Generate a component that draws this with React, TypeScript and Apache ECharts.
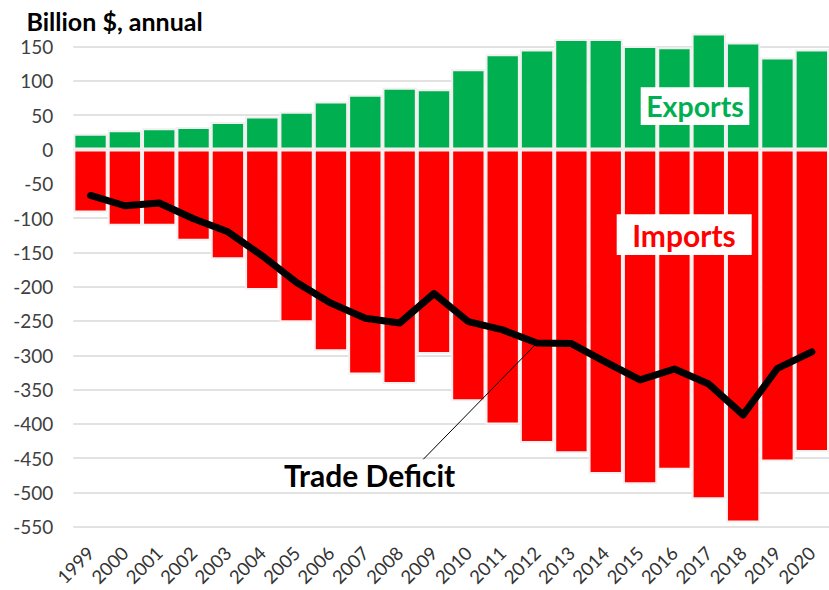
import React, { useEffect, useRef } from "react";
import * as echarts from "echarts";

const years = ["1999","2000","2001","2002","2003","2004","2005","2006","2007","2008","2009","2010","2011","2012","2013","2014","2015","2016","2017","2018","2019","2020"];
const exportsVals = [23, 28, 31, 33, 40, 48, 55, 70, 80, 90, 88, 117, 139, 146, 161, 161, 151, 149, 169, 156, 134, 146];
const importsVals = [-92, -111, -111, -133, -160, -205, -252, -294, -328, -342, -298, -367, -401, -428, -443, -473, -488, -467, -510, -544, -455, -441];
const deficitVals = [-67, -82, -78, -101, -120, -155, -194, -224, -246, -253, -210, -251, -263, -282, -283, -310, -336, -320, -342, -387, -319, -295];

const FONT = "Lato, 'Open Sans', sans-serif";

export default function App() {
  const ref = useRef<HTMLDivElement>(null);
  useEffect(() => {
    if (!ref.current) return;
    const chart = echarts.init(ref.current, undefined, { renderer: "svg" });
    chart.setOption({
      animation: false,
      backgroundColor: "#ffffff",
      grid: { left: 73.35, right: -7.75, top: 29.5, bottom: 63.3, containLabel: false },
      xAxis: {
        type: "category",
        data: years,
        axisLine: { show: false, onZero: false },
        axisTick: { show: false },
        axisLabel: {
          rotate: 45,
          interval: 0,
          margin: 23,
          fontSize: 18.5,
          fontFamily: FONT,
          color: "#333333",
        },
      },
      yAxis: {
        type: "value",
        min: -550,
        max: 175,
        interval: 50,
        axisLine: { show: false },
        axisTick: { show: false },
        axisLabel: {
          showMaxLabel: false,
          margin: 20,
          fontSize: 19,
          fontFamily: FONT,
          color: "#404040",
        },
        splitLine: {
          showMaxLine: false,
          lineStyle: { color: "#d9d9d9", width: 1.5 },
        },
      },
      series: [
        {
          name: "Exports",
          type: "bar",
          stack: "trade",
          data: exportsVals,
          barCategoryGap: "0%",
          itemStyle: { color: "#00b050", borderColor: "#f0f0f0", borderWidth: 2 },
        },
        {
          name: "Imports",
          type: "bar",
          stack: "trade",
          data: importsVals,
          barCategoryGap: "0%",
          itemStyle: { color: "#ff0000", borderColor: "#f8f0f0", borderWidth: 2 },
        },
        {
          name: "Trade Deficit",
          type: "line",
          data: deficitVals,
          symbol: "none",
          z: 5,
          lineStyle: { color: "#000000", width: 7, cap: "round", join: "round" },
        },
      ],
      graphic: [
        {
          type: "text",
          left: 26.5,
          top: 8,
          style: {
            text: "Billion $, annual",
            fontSize: 25,
            fontWeight: "bold",
            fontFamily: FONT,
            fill: "#000000",
          },
          z: 10,
        },
        {
          type: "rect",
          shape: { x: 640.7, y: 87.3, width: 108.6, height: 37.7 },
          style: { fill: "#ffffff" },
          z: 10,
        },
        {
          type: "text",
          x: 695,
          y: 106,
          style: {
            text: "Exports",
            fontSize: 28.5,
            fontWeight: "bold",
            fontFamily: FONT,
            fill: "#00b050",
            align: "center",
            verticalAlign: "middle",
          },
          z: 11,
        },
        {
          type: "rect",
          shape: { x: 616.7, y: 214.3, width: 135, height: 40.7 },
          style: { fill: "#ffffff" },
          z: 10,
        },
        {
          type: "text",
          x: 684,
          y: 235,
          style: {
            text: "Imports",
            fontSize: 30,
            fontWeight: "bold",
            fontFamily: FONT,
            fill: "#ff0000",
            align: "center",
            verticalAlign: "middle",
          },
          z: 11,
        },
        {
          type: "line",
          shape: { x1: 423.3, y1: 459.3, x2: 535, y2: 345 },
          style: { stroke: "#000000", lineWidth: 1 },
          z: 10,
        },
        {
          type: "text",
          x: 284,
          y: 475,
          style: {
            text: "Trade Deficit",
            fontSize: 30,
            fontWeight: "bold",
            fontFamily: FONT,
            fill: "#000000",
            align: "left",
            verticalAlign: "middle",
          },
          z: 11,
        },
      ],
    });
    return () => chart.dispose();
  }, []);
  return (
    <div
      ref={ref}
      style={{ position: "absolute", left: 0, top: 0, width: 829, height: 590 }}
    />
  );
}
